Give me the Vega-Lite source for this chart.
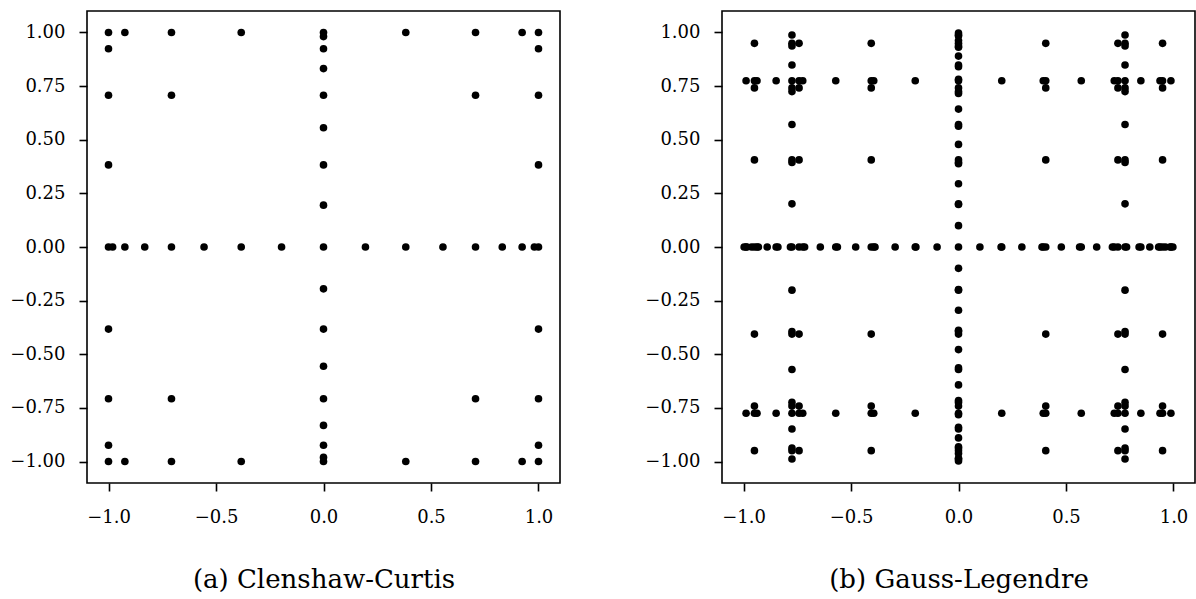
{
  "$schema": "https://vega.github.io/schema/vega-lite/v6.json",
  "background": "white",
  "padding": {"left": 9, "top": 10, "right": 0, "bottom": 0},
  "autosize": {"type": "pad"},
  "bounds": "flush",
  "spacing": 162,
  "datasets": {
    "cc": [
      {"x": -1, "y": 0}, {"x": -0.98079, "y": 0}, {"x": -0.92388, "y": 0}, {"x": -0.83147, "y": 0}, {"x": -0.70711, "y": 0}, {"x": -0.55557, "y": 0}, {"x": -0.38268, "y": 0}, {"x": -0.19509, "y": 0}, {"x": 0, "y": 0},
      {"x": 0.19509, "y": 0}, {"x": 0.38268, "y": 0}, {"x": 0.55557, "y": 0}, {"x": 0.70711, "y": 0}, {"x": 0.83147, "y": 0}, {"x": 0.92388, "y": 0}, {"x": 0.98079, "y": 0}, {"x": 1, "y": 0},
      {"x": 0, "y": -1}, {"x": 0, "y": -0.98079}, {"x": 0, "y": -0.92388}, {"x": 0, "y": -0.83147}, {"x": 0, "y": -0.70711}, {"x": 0, "y": -0.55557}, {"x": 0, "y": -0.38268}, {"x": 0, "y": -0.19509},
      {"x": 0, "y": 0.19509}, {"x": 0, "y": 0.38268}, {"x": 0, "y": 0.55557}, {"x": 0, "y": 0.70711}, {"x": 0, "y": 0.83147}, {"x": 0, "y": 0.92388}, {"x": 0, "y": 0.98079}, {"x": 0, "y": 1},
      {"x": -1, "y": -1}, {"x": -1, "y": -0.92388}, {"x": -1, "y": -0.70711}, {"x": -1, "y": -0.38268}, {"x": -1, "y": 0.38268}, {"x": -1, "y": 0.70711}, {"x": -1, "y": 0.92388}, {"x": -1, "y": 1},
      {"x": 1, "y": -1}, {"x": 1, "y": -0.92388}, {"x": 1, "y": -0.70711}, {"x": 1, "y": -0.38268}, {"x": 1, "y": 0.38268}, {"x": 1, "y": 0.70711}, {"x": 1, "y": 0.92388}, {"x": 1, "y": 1},
      {"x": -0.92388, "y": -1}, {"x": -0.70711, "y": -1}, {"x": -0.38268, "y": -1}, {"x": 0.38268, "y": -1}, {"x": 0.70711, "y": -1}, {"x": 0.92388, "y": -1},
      {"x": -0.92388, "y": 1}, {"x": -0.70711, "y": 1}, {"x": -0.38268, "y": 1}, {"x": 0.38268, "y": 1}, {"x": 0.70711, "y": 1}, {"x": 0.92388, "y": 1},
      {"x": -0.70711, "y": -0.70711}, {"x": -0.70711, "y": 0.70711}, {"x": 0.70711, "y": -0.70711}, {"x": 0.70711, "y": 0.70711}
    ],
    "gl": [
      {"x": 0, "y": 0},
      {"x": -0.99708, "y": 0}, {"x": -0.98799, "y": 0}, {"x": -0.98468, "y": 0}, {"x": -0.9625, "y": 0}, {"x": -0.94911, "y": 0}, {"x": -0.93727, "y": 0}, {"x": -0.93076, "y": 0}, {"x": -0.88976, "y": 0}, {"x": -0.84821, "y": 0}, {"x": -0.83992, "y": 0}, {"x": -0.78173, "y": 0}, {"x": -0.7746, "y": 0}, {"x": -0.74153, "y": 0}, {"x": -0.72442, "y": 0}, {"x": -0.71578, "y": 0}, {"x": -0.64271, "y": 0}, {"x": -0.57097, "y": 0}, {"x": -0.56325, "y": 0}, {"x": -0.4782, "y": 0}, {"x": -0.40585, "y": 0}, {"x": -0.39415, "y": 0}, {"x": -0.38838, "y": 0}, {"x": -0.29472, "y": 0}, {"x": -0.20119, "y": 0}, {"x": -0.19813, "y": 0}, {"x": -0.09956, "y": 0},
      {"x": 0.99708, "y": 0}, {"x": 0.98799, "y": 0}, {"x": 0.98468, "y": 0}, {"x": 0.9625, "y": 0}, {"x": 0.94911, "y": 0}, {"x": 0.93727, "y": 0}, {"x": 0.93076, "y": 0}, {"x": 0.88976, "y": 0}, {"x": 0.84821, "y": 0}, {"x": 0.83992, "y": 0}, {"x": 0.78173, "y": 0}, {"x": 0.7746, "y": 0}, {"x": 0.74153, "y": 0}, {"x": 0.72442, "y": 0}, {"x": 0.71578, "y": 0}, {"x": 0.64271, "y": 0}, {"x": 0.57097, "y": 0}, {"x": 0.56325, "y": 0}, {"x": 0.4782, "y": 0}, {"x": 0.40585, "y": 0}, {"x": 0.39415, "y": 0}, {"x": 0.38838, "y": 0}, {"x": 0.29472, "y": 0}, {"x": 0.20119, "y": 0}, {"x": 0.19813, "y": 0}, {"x": 0.09956, "y": 0},
      {"y": -0.99708, "x": 0}, {"y": -0.98799, "x": 0}, {"y": -0.98468, "x": 0}, {"y": -0.9625, "x": 0}, {"y": -0.94911, "x": 0}, {"y": -0.93727, "x": 0}, {"y": -0.93076, "x": 0}, {"y": -0.88976, "x": 0}, {"y": -0.84821, "x": 0}, {"y": -0.83992, "x": 0}, {"y": -0.78173, "x": 0}, {"y": -0.7746, "x": 0}, {"y": -0.74153, "x": 0}, {"y": -0.72442, "x": 0}, {"y": -0.71578, "x": 0}, {"y": -0.64271, "x": 0}, {"y": -0.57097, "x": 0}, {"y": -0.56325, "x": 0}, {"y": -0.4782, "x": 0}, {"y": -0.40585, "x": 0}, {"y": -0.39415, "x": 0}, {"y": -0.38838, "x": 0}, {"y": -0.29472, "x": 0}, {"y": -0.20119, "x": 0}, {"y": -0.19813, "x": 0}, {"y": -0.09956, "x": 0},
      {"y": 0.99708, "x": 0}, {"y": 0.98799, "x": 0}, {"y": 0.98468, "x": 0}, {"y": 0.9625, "x": 0}, {"y": 0.94911, "x": 0}, {"y": 0.93727, "x": 0}, {"y": 0.93076, "x": 0}, {"y": 0.88976, "x": 0}, {"y": 0.84821, "x": 0}, {"y": 0.83992, "x": 0}, {"y": 0.78173, "x": 0}, {"y": 0.7746, "x": 0}, {"y": 0.74153, "x": 0}, {"y": 0.72442, "x": 0}, {"y": 0.71578, "x": 0}, {"y": 0.64271, "x": 0}, {"y": 0.57097, "x": 0}, {"y": 0.56325, "x": 0}, {"y": 0.4782, "x": 0}, {"y": 0.40585, "x": 0}, {"y": 0.39415, "x": 0}, {"y": 0.38838, "x": 0}, {"y": 0.29472, "x": 0}, {"y": 0.20119, "x": 0}, {"y": 0.19813, "x": 0}, {"y": 0.09956, "x": 0},
      {"x": -0.7746, "y": -0.98799}, {"x": -0.7746, "y": -0.94911}, {"x": -0.7746, "y": -0.93727}, {"x": -0.7746, "y": -0.84821}, {"x": -0.7746, "y": -0.7746}, {"x": -0.7746, "y": -0.74153}, {"x": -0.7746, "y": -0.72442}, {"x": -0.7746, "y": -0.57097}, {"x": -0.7746, "y": -0.40585}, {"x": -0.7746, "y": -0.39415}, {"x": -0.7746, "y": -0.20119},
      {"x": -0.7746, "y": 0.98799}, {"x": -0.7746, "y": 0.94911}, {"x": -0.7746, "y": 0.93727}, {"x": -0.7746, "y": 0.84821}, {"x": -0.7746, "y": 0.7746}, {"x": -0.7746, "y": 0.74153}, {"x": -0.7746, "y": 0.72442}, {"x": -0.7746, "y": 0.57097}, {"x": -0.7746, "y": 0.40585}, {"x": -0.7746, "y": 0.39415}, {"x": -0.7746, "y": 0.20119},
      {"x": 0.7746, "y": -0.98799}, {"x": 0.7746, "y": -0.94911}, {"x": 0.7746, "y": -0.93727}, {"x": 0.7746, "y": -0.84821}, {"x": 0.7746, "y": -0.7746}, {"x": 0.7746, "y": -0.74153}, {"x": 0.7746, "y": -0.72442}, {"x": 0.7746, "y": -0.57097}, {"x": 0.7746, "y": -0.40585}, {"x": 0.7746, "y": -0.39415}, {"x": 0.7746, "y": -0.20119},
      {"x": 0.7746, "y": 0.98799}, {"x": 0.7746, "y": 0.94911}, {"x": 0.7746, "y": 0.93727}, {"x": 0.7746, "y": 0.84821}, {"x": 0.7746, "y": 0.7746}, {"x": 0.7746, "y": 0.74153}, {"x": 0.7746, "y": 0.72442}, {"x": 0.7746, "y": 0.57097}, {"x": 0.7746, "y": 0.40585}, {"x": 0.7746, "y": 0.39415}, {"x": 0.7746, "y": 0.20119},
      {"y": -0.7746, "x": -0.98799}, {"y": -0.7746, "x": -0.94911}, {"y": -0.7746, "x": -0.93727}, {"y": -0.7746, "x": -0.84821}, {"y": -0.7746, "x": -0.74153}, {"y": -0.7746, "x": -0.72442}, {"y": -0.7746, "x": -0.57097}, {"y": -0.7746, "x": -0.40585}, {"y": -0.7746, "x": -0.39415}, {"y": -0.7746, "x": -0.20119},
      {"y": -0.7746, "x": 0.98799}, {"y": -0.7746, "x": 0.94911}, {"y": -0.7746, "x": 0.93727}, {"y": -0.7746, "x": 0.84821}, {"y": -0.7746, "x": 0.74153}, {"y": -0.7746, "x": 0.72442}, {"y": -0.7746, "x": 0.57097}, {"y": -0.7746, "x": 0.40585}, {"y": -0.7746, "x": 0.39415}, {"y": -0.7746, "x": 0.20119},
      {"y": 0.7746, "x": -0.98799}, {"y": 0.7746, "x": -0.94911}, {"y": 0.7746, "x": -0.93727}, {"y": 0.7746, "x": -0.84821}, {"y": 0.7746, "x": -0.74153}, {"y": 0.7746, "x": -0.72442}, {"y": 0.7746, "x": -0.57097}, {"y": 0.7746, "x": -0.40585}, {"y": 0.7746, "x": -0.39415}, {"y": 0.7746, "x": -0.20119},
      {"y": 0.7746, "x": 0.98799}, {"y": 0.7746, "x": 0.94911}, {"y": 0.7746, "x": 0.93727}, {"y": 0.7746, "x": 0.84821}, {"y": 0.7746, "x": 0.74153}, {"y": 0.7746, "x": 0.72442}, {"y": 0.7746, "x": 0.57097}, {"y": 0.7746, "x": 0.40585}, {"y": 0.7746, "x": 0.39415}, {"y": 0.7746, "x": 0.20119},
      {"x": -0.94911, "y": -0.94911}, {"x": -0.94911, "y": -0.74153}, {"x": -0.94911, "y": -0.40585}, {"x": -0.94911, "y": 0.40585}, {"x": -0.94911, "y": 0.74153}, {"x": -0.94911, "y": 0.94911},
      {"x": -0.74153, "y": -0.94911}, {"x": -0.74153, "y": -0.74153}, {"x": -0.74153, "y": -0.40585}, {"x": -0.74153, "y": 0.40585}, {"x": -0.74153, "y": 0.74153}, {"x": -0.74153, "y": 0.94911},
      {"x": -0.40585, "y": -0.94911}, {"x": -0.40585, "y": -0.74153}, {"x": -0.40585, "y": -0.40585}, {"x": -0.40585, "y": 0.40585}, {"x": -0.40585, "y": 0.74153}, {"x": -0.40585, "y": 0.94911},
      {"x": 0.40585, "y": -0.94911}, {"x": 0.40585, "y": -0.74153}, {"x": 0.40585, "y": -0.40585}, {"x": 0.40585, "y": 0.40585}, {"x": 0.40585, "y": 0.74153}, {"x": 0.40585, "y": 0.94911},
      {"x": 0.74153, "y": -0.94911}, {"x": 0.74153, "y": -0.74153}, {"x": 0.74153, "y": -0.40585}, {"x": 0.74153, "y": 0.40585}, {"x": 0.74153, "y": 0.74153}, {"x": 0.74153, "y": 0.94911},
      {"x": 0.94911, "y": -0.94911}, {"x": 0.94911, "y": -0.74153}, {"x": 0.94911, "y": -0.40585}, {"x": 0.94911, "y": 0.40585}, {"x": 0.94911, "y": 0.74153}, {"x": 0.94911, "y": 0.94911}
    ]
  },
  "config": {
    "font": "DejaVu Serif",
    "view": {"stroke": "black", "strokeWidth": 1.6},
    "axis": {
      "domain": false,
      "grid": false,
      "ticks": true,
      "tickColor": "black",
      "tickWidth": 1.6,
      "tickSize": 8,
      "labelFont": "DejaVu Serif",
      "labelFontSize": 18,
      "labelColor": "black",
      "labelFlush": false,
      "labelOverlap": false,
      "titleFont": "DejaVu Serif",
      "titleFontSize": 26,
      "titleFontWeight": "normal",
      "titleColor": "black"
    },
    "axisX": {"labelPadding": 17, "titlePadding": 40},
    "axisY": {"labelPadding": 14}
  },
  "hconcat": [
    {
      "data": {"name": "cc"},
      "width": 473,
      "height": 472,
      "mark": {"type": "circle", "size": 58, "color": "black", "opacity": 1},
      "encoding": {
        "x": {"field": "x", "type": "quantitative", "scale": {"domain": [-1.1, 1.1], "nice": false, "zero": false},
              "axis": {"values": [-1, -0.5, 0, 0.5, 1], "format": ".1f", "title": "(a) Clenshaw-Curtis"}},
        "y": {"field": "y", "type": "quantitative", "scale": {"domain": [-1.1, 1.1], "nice": false, "zero": false},
              "axis": {"values": [-1, -0.75, -0.5, -0.25, 0, 0.25, 0.5, 0.75, 1], "format": ".2f", "title": null}}
      }
    },
    {
      "data": {"name": "gl"},
      "width": 473,
      "height": 472,
      "mark": {"type": "circle", "size": 58, "color": "black", "opacity": 1},
      "encoding": {
        "x": {"field": "x", "type": "quantitative", "scale": {"domain": [-1.1, 1.1], "nice": false, "zero": false},
              "axis": {"values": [-1, -0.5, 0, 0.5, 1], "format": ".1f", "title": "(b) Gauss-Legendre"}},
        "y": {"field": "y", "type": "quantitative", "scale": {"domain": [-1.1, 1.1], "nice": false, "zero": false},
              "axis": {"values": [-1, -0.75, -0.5, -0.25, 0, 0.25, 0.5, 0.75, 1], "format": ".2f", "title": null}}
      }
    }
  ]
}
